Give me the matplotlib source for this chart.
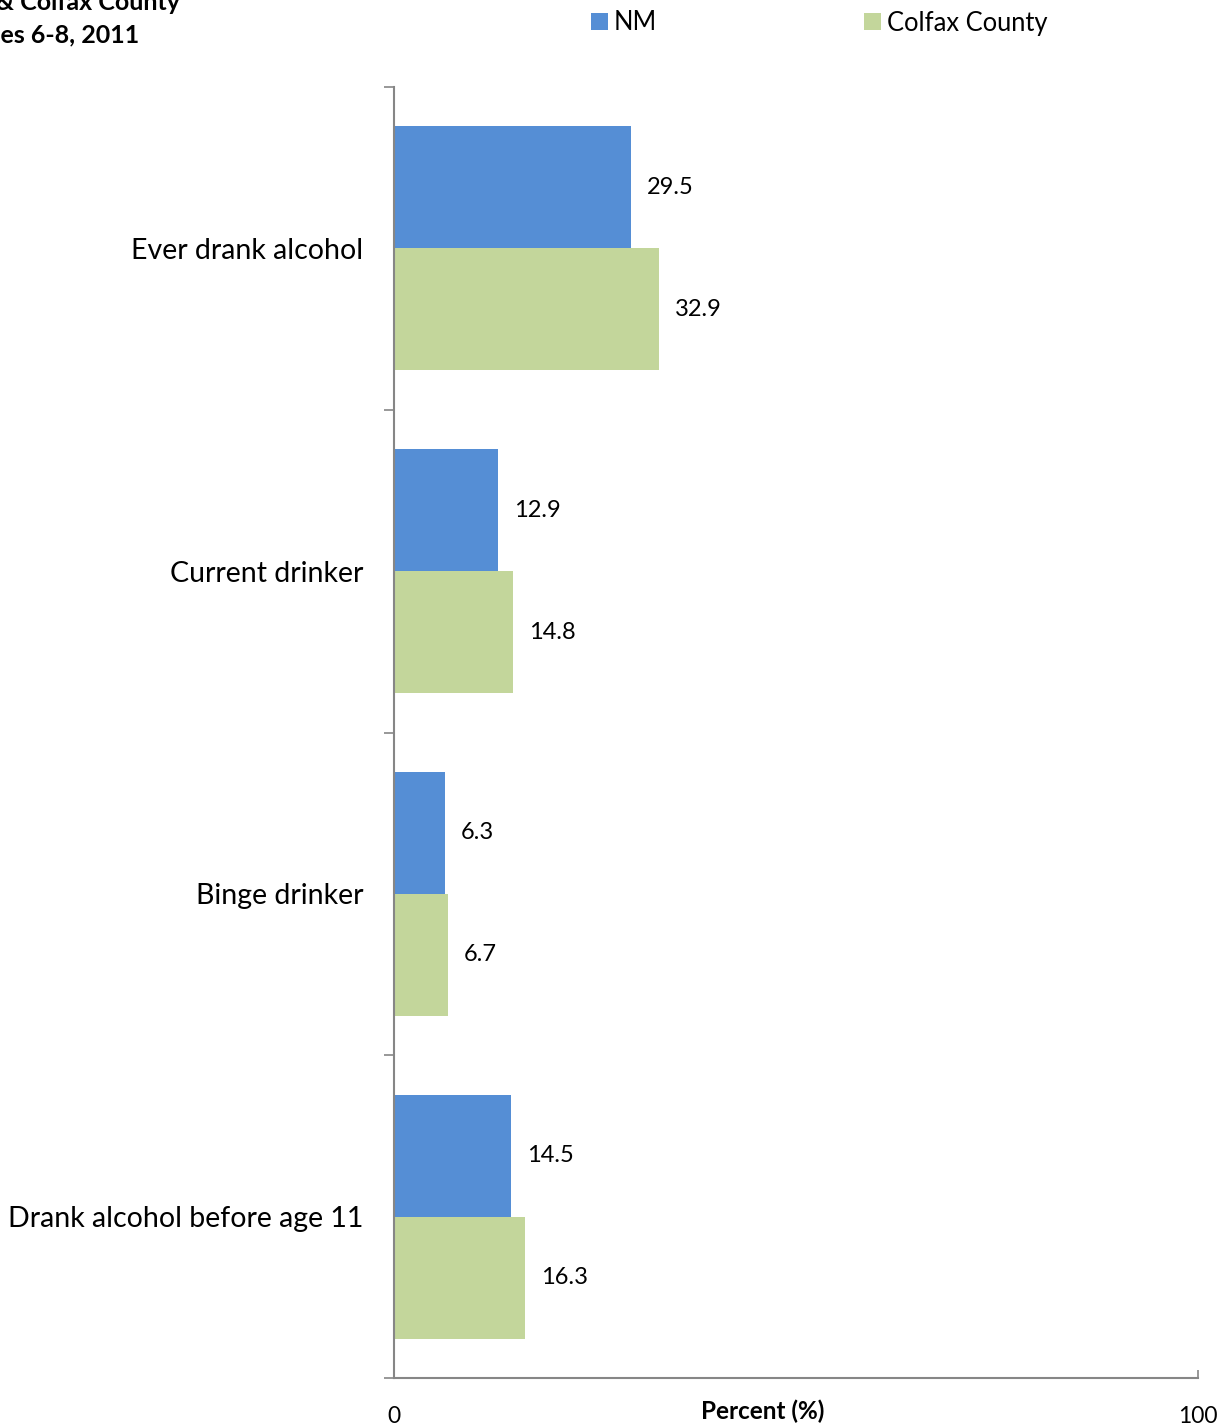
import numpy as np
from matplotlib import pyplot as plt

plt.rcParams['font.family'] = ['Lato', 'DejaVu Sans']

# datos
categorias = ['Ever drank alcohol', 'Current drinker', 'Binge drinker', 'Drank alcohol before age 11']
nm = [29.5, 12.9, 6.3, 14.5]
colfax = [32.9, 14.8, 6.7, 16.3]
series = ['NM', 'Colfax County']

azul = '#558ED5'
verde = '#C3D69B'
gris = '#868686'

fig = plt.figure(figsize=(12.23, 14.24), dpi=100)
ax = fig.add_axes([0.3222, 0.0323, 0.6574, 0.9066])

y = np.arange(len(categorias))
h = 0.378
b1 = ax.barh(y - h/2, nm, height=h, color=azul, label=series[0])
b2 = ax.barh(y + h/2, colfax, height=h, color=verde, label=series[1])

# etiquetas de valores
for barras, vals in [(b1, nm), (b2, colfax)]:
    for barra, v in zip(barras, vals):
        ax.text(v + 2.0, barra.get_y() + barra.get_height()/2, '%.1f' % v,
                va='center', ha='left', fontsize=17)

ax.set_xlim(0, 100)
ax.set_ylim(len(categorias) - 0.5, -0.5)

# ticks de categorias: marcas en los limites, etiquetas en el centro
ax.set_yticks(np.arange(-0.5, len(categorias), 1.0))
ax.set_yticklabels([])
ax.set_yticks(y, minor=True)
ax.set_yticklabels(categorias, minor=True, fontsize=20.5)
ax.tick_params(axis='y', which='major', direction='out', length=7, color=gris, width=1.2)
ax.tick_params(axis='y', which='minor', length=0, pad=22)

ax.set_xticks([0, 100])
ax.set_xticklabels(['0', '100'], fontsize=16.5)
ax.tick_params(axis='x', direction='in', length=6, color=gris, width=1.2, pad=20)

ax.set_xlabel('Percent (%)', fontsize=17.5, fontweight='bold')
ax.xaxis.set_label_coords(0.459, -0.017)

for s in ['top', 'right']:
    ax.spines[s].set_visible(False)
for s in ['left', 'bottom']:
    ax.spines[s].set_color(gris)
    ax.spines[s].set_linewidth(1.5)

# titulo cortado en el borde izquierdo
fig.text(180/1223, 1 - 2/1424, 'Alcohol Use, NM & Colfax County', ha='right', va='center',
         fontsize=18, fontweight='bold')
fig.text(139/1223, 1 - 35/1424, 'Grades 6-8, 2011', ha='right', va='center',
         fontsize=18, fontweight='bold')

fig.legend(handles=[b1, b2], labels=series, loc='center left',
           bbox_to_anchor=(591/1223, 1 - 23/1424), ncol=2, frameon=False,
           fontsize=18.4, handlelength=0.65, handleheight=0.65, handletextpad=0.25,
           columnspacing=8.1, borderaxespad=0, borderpad=0)

plt.savefig('out.png', dpi=100)
